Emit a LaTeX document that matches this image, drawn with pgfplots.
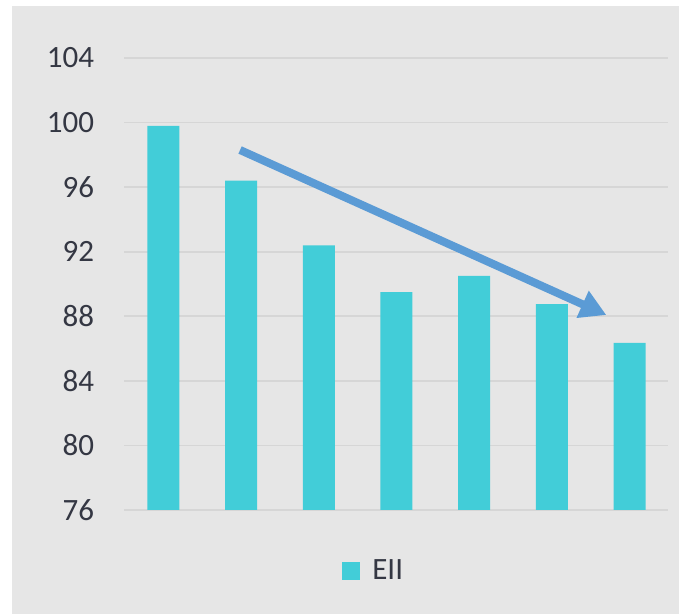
\documentclass[border=0pt]{standalone}
\usepackage{pgfplots}
\pgfplotsset{compat=1.18}
\usepackage{fontspec}
\setmainfont{Carlito}
\usetikzlibrary{arrows.meta}
\definecolor{bg}{HTML}{E6E6E6}
\definecolor{barc}{HTML}{42CDD8}
\definecolor{arrowc}{HTML}{5B9BD5}
\definecolor{gridc}{HTML}{D6D6D6}
\definecolor{txt}{HTML}{343743}
\begin{document}
\begin{tikzpicture}
\path[use as bounding box] (-62.25pt,-52pt) rectangle (277.25pt,255pt);
\fill[bg] (-56.25pt,-52pt) rectangle (277.25pt,252pt);
\begin{axis}[
  at={(0pt,0pt)}, anchor=south west,
  scale only axis, width=272pt, height=226pt,
  xmin=-0.5, xmax=6.5, ymin=76, ymax=104,
  ytick={76,80,...,104},
  xtick=\empty,
  axis line style={draw=none},
  major tick length=0pt,
  ymajorgrids, grid style={gridc, line width=0.8pt},
  /pgf/number format/assume math mode=true,
  tick label style={font=\fontsize{15.5}{18}\selectfont, text=txt},
  yticklabel style={inner sep=0pt, xshift=-15pt},
  ybar, bar width=16pt,
  legend style={at={(0.46,-0.135)}, anchor=center, draw=none, fill=none,
    font=\fontsize{15.5}{18}\selectfont, text=txt,
    /tikz/every odd column/.append style={column sep=4pt}},
  legend image code/.code={\draw[#1, draw=none] (0pt,-4.5pt) rectangle (9pt,4.5pt);},
]
\addplot[fill=barc, draw=none] coordinates {(0,99.8) (1,96.4) (2,92.4) (3,89.5) (4,90.5) (5,88.75) (6,86.35)};
\addlegendentry{EII}
\addplot[ybar=0pt, bar width=0pt, sharp plot, arrowc, line width=4pt, -{Triangle[length=13pt,width=14pt]}, forget plot] coordinates {(0.987,98.3) (5.7,88.08)};
\end{axis}
\end{tikzpicture}
\end{document}
